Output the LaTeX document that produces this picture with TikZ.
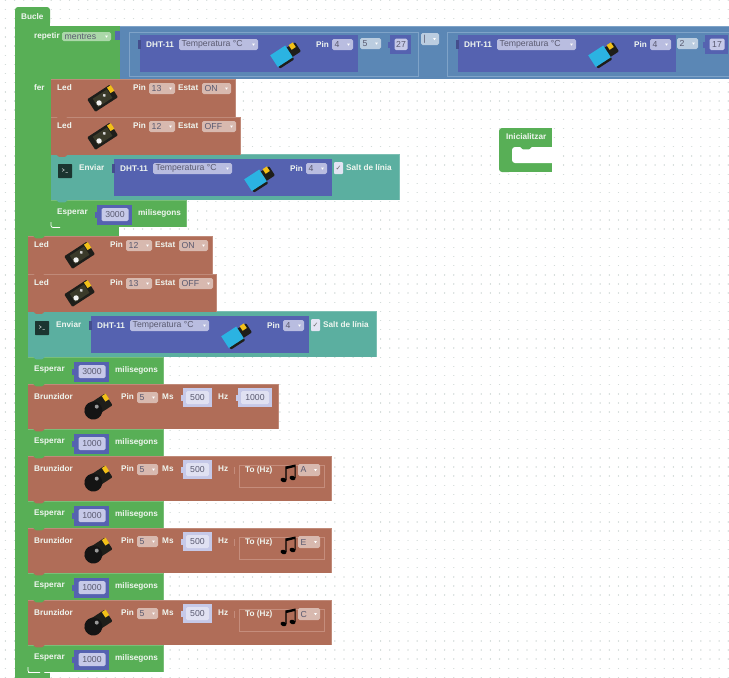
\documentclass[tikz,border=0pt]{standalone}
\usepackage{fontspec}
\setmainfont{Liberation Sans}
\newfontfamily\symfont{DejaVu Sans}
\definecolor{brownb}{HTML}{B06D58}
\definecolor{brownedge}{HTML}{C58D7C}
\definecolor{tealb}{HTML}{5BAFA0}
\definecolor{greenb}{HTML}{58AF56}
\definecolor{blueb}{HTML}{5B87B5}
\definecolor{blueedge}{HTML}{7FA3C8}
\definecolor{purpleb}{HTML}{5562B0}
\definecolor{fieldp}{HTML}{C6C9E8}
\definecolor{dropb}{HTML}{D8B9AF}
\definecolor{dropp}{HTML}{B9BDE0}
\definecolor{dropg}{HTML}{ABD8A9}
\definecolor{dropblue}{HTML}{BBCDE0}
\definecolor{dtext}{HTML}{5A5A70}
\definecolor{labelw}{HTML}{F0F6F0}
\definecolor{dotc}{HTML}{D3DBD9}
\definecolor{boardc}{HTML}{1E1E1A}
\definecolor{boardin}{HTML}{3A3A2A}
\definecolor{yell}{HTML}{F2C018}
\definecolor{cyanb}{HTML}{2BB3E2}
\newcount\nodenum
\tikzset{
  lab/.style={anchor=west,inner sep=0pt,text=labelw,font=\fontsize{8.2}{9}\selectfont\bfseries},
  fld/.style={anchor=center,inner sep=0pt,text=dtext,font=\fontsize{8.7}{9}\selectfont},
}
\newcommand{\lab}[3]{\global\advance\nodenum by 1 \node[lab] (n\the\nodenum) at (#1,#2) {#3};}
% x1 x2 y1 y2 colour
\newcommand{\blk}[5]{\fill[#5] (#1,#3) rectangle (#2,#4);
  \draw[#5!80!white,line width=.5pt] (#1,#3) -- (#2,#3) -- (#2,#4);
  \fill[#5] (#1+5,#4-.2) -- (#1+8,#4+2.4) -- (#1+14,#4+2.4) -- (#1+17,#4-.2) -- cycle;}
% x1 x2 y1 y2 colour text
\newcommand{\drop}[6]{\fill[#5,rounded corners=1.6pt] (#1,#3) rectangle (#2,#4);
  \global\advance\nodenum by 1
  \node[fld,anchor=west] (n\the\nodenum) at (#1+2.5,{(#3+#4)/2}) {#6};
  \fill[white] (#2-6,{(#3+#4)/2-1}) -- (#2-3,{(#3+#4)/2-1}) -- (#2-4.5,{(#3+#4)/2+1.2}) -- cycle;}
% x1 x2 y1 y2 text : purple number block
\newcommand{\num}[5]{\fill[purpleb] (#1,#3) rectangle (#2,#4);
  \fill[purpleb] (#1-2.5,{(#3+#4)/2-3}) rectangle (#1+.5,{(#3+#4)/2+3});
  \fill[fieldp,rounded corners=1.5pt] (#1+4.5,#3+3.5) rectangle (#2-3.5,#4-4);
  \global\advance\nodenum by 1
  \node[fld] (n\the\nodenum) at ({(#1+#2)/2+.5},{(#3+#4)/2-.3}) {#5};}
% x1 x2 y1 y2 text : pale number block on brown
\newcommand{\palenum}[5]{\fill[fieldp] (#1,#3) rectangle (#2,#4);
  \fill[fieldp] (#1-2.5,{(#3+#4)/2-3}) rectangle (#1+.5,{(#3+#4)/2+3});
  \fill[white!45!fieldp,rounded corners=1.5pt] (#1+3,#3+3) rectangle (#2-3,#4-3);
  \global\advance\nodenum by 1
  \node[fld] (n\the\nodenum) at ({(#1+#2)/2},{(#3+#4)/2}) {#5};}
\newcommand{\ledicon}[2]{\begin{scope}[shift={(#1,#2)},rotate=33]
  \fill[boardc,rounded corners=1pt] (-14,-7.5) rectangle (13,7.5);
  \fill[boardin] (-9,-5) rectangle (8,5);
  \fill[white!90!gray] (-6,2) circle (2.7);
  \fill[white!70!gray] (2.5,-1.5) circle (1.7);
  \fill[yell] (9,-6.5) rectangle (13.5,0);
  \end{scope}}
\newcommand{\buzicon}[2]{\begin{scope}[shift={(#1,#2)},rotate=33]
  \fill[boardc,rounded corners=1pt] (-8,-7) rectangle (14,7);
  \fill[black!92] (-5,1) circle (9);
  \fill[black!40!white] (0,-.5) circle (2);
  \fill[yell] (10,-6.5) rectangle (14.5,0);
  \end{scope}}
\newcommand{\dhticon}[2]{\begin{scope}[shift={(#1,#2)},rotate=33]
  \fill[boardc,rounded corners=1pt] (-13,-6) rectangle (4,9);
  \fill[boardc,rounded corners=1pt] (3,-5) rectangle (14,6);
  \fill[cyanb] (-14,-7.5) rectangle (4,6.5);
  \fill[yell] (7,-6) rectangle (12,-.5);
  \end{scope}}
\newcommand{\dht}[2]{\fill[purpleb] (#1,#2) rectangle (#1+218,#2+37);
  \fill[purpleb!80!black] (#1-2.5,#2+5) rectangle (#1+.5,#2+14);
  \lab{#1+6}{#2+9.5}{DHT-11}
  \drop{#1+39}{#1+118}{#2+4}{#2+15}{dropp}{Temperatura °C}
  \dhticon{#1+146}{#2+19}
  \lab{#1+176}{#2+9.5}{Pin}
  \drop{#1+192}{#1+213}{#2+4}{#2+15}{dropp}{4}}
% x0 y0 pin state rightedge statefieldright
\newcommand{\led}[6]{\blk{#1}{#5}{#2}{#2+37.5}{brownb}
  \lab{#1+6}{#2+9}{Led}
  \ledicon{#1+52}{#2+19}
  \lab{#1+82}{#2+9}{Pin}
  \drop{#1+98}{#1+124}{#2+4}{#2+15}{dropb}{#3}
  \lab{#1+127}{#2+9}{Estat}
  \drop{#1+151}{#6}{#2+4}{#2+15}{dropb}{#4}}
\newcommand{\enviar}[2]{\blk{#1}{#1+348}{#2}{#2+46}{tealb}
  \fill[black!70!tealb,rounded corners=.6pt] (#1+7,#2+10) rectangle (#1+21,#2+24);
  \global\advance\nodenum by 1
  \node[inner sep=0pt,text=white,font=\fontsize{6.5}{7}\selectfont\ttfamily] (n\the\nodenum) at (#1+14,#2+17) {>\_};
  \lab{#1+28}{#2+14}{Enviar}
  \dht{#1+63}{#2+5}
  \fill[dropp!40!white,rounded corners=1pt] (#1+283,#2+8) rectangle (#1+292,#2+20);
  \global\advance\nodenum by 1
  \node[inner sep=0pt,text=black!60,font=\fontsize{7}{8}\selectfont\symfont] (n\the\nodenum) at (#1+287.5,#2+14) {✓};
  \lab{#1+295}{#2+14}{Salt de línia}}
\newcommand{\esperar}[3]{\blk{#1}{#1+135}{#2}{#2+27}{greenb}
  \lab{#1+6}{#2+13}{Esperar}
  \num{#1+46}{#1+81}{#2+4.5}{#2+25}{#3}
  \lab{#1+87}{#2+13}{milisegons}}
\newcommand{\brunz}[3]{\blk{#1}{#3}{#2}{#2+45}{brownb}
  \lab{#1+6}{#2+13}{Brunzidor}
  \buzicon{#1+69}{#2+23}
  \lab{#1+93}{#2+13}{Pin}
  \drop{#1+109}{#1+130}{#2+8}{#2+19}{dropb}{5}
  \lab{#1+134}{#2+13}{Ms}
  \palenum{#1+155}{#1+184}{#2+4}{#2+23}{500}
  \lab{#1+190}{#2+13}{Hz}}
\newcommand{\tohz}[3]{\draw[brownedge,line width=.5pt] (#1+211,#2+9) rectangle (#1+296,#2+31);
  \draw[brownedge,line width=.8pt] (#1+206,#2+11) -- (#1+206,#2+18);
  \lab{#1+217}{#2+14.5}{To (Hz)}
  % music note
  \fill[black,rotate around={-20:(#1+255.5,#2+24)}] (#1+255.5,#2+24) ellipse (3 and 2.2);
  \fill[black,rotate around={-20:(#1+264.5,#2+22)}] (#1+264.5,#2+22) ellipse (3 and 2.2);
  \fill[black] (#1+257.4,#2+24) -- (#1+258.6,#2+24) -- (#1+258.6,#2+13) -- (#1+266.6,#2+11) -- (#1+266.6,#2+22) -- (#1+267.6,#2+22) -- (#1+267.6,#2+8.5) -- (#1+257.4,#2+10.5) -- cycle;
  \drop{#1+270}{#1+292}{#2+8}{#2+20}{dropb}{#3}}
\begin{document}
\begin{tikzpicture}[x=1pt,y=-1pt]
\useasboundingbox (0,0) rectangle (729,678);
\clip (0,0) rectangle (729,678);
\fill[white] (0,0) rectangle (729,678);
% grid of dots
\foreach \j in {0,...,74} {
  \draw[dotc,line width=1.4pt,line cap=round,dash pattern=on .05pt off 9.1pt] (5.4,{.35+\j*9.15}) -- (729,{.35+\j*9.15});
}
% Inicialitzar
\fill[greenb,rounded corners=3pt] (499,128) rectangle (512,172);
\fill[greenb] (505,128) rectangle (552,172);
\fill[white,rounded corners=3pt] (556,147) -- (512,147) -- (512,163) -- (556,163) -- cycle;
\fill[white] (552,140) rectangle (560,175);
\fill[greenb] (520,146.8) -- (523,149.4) -- (529,149.4) -- (532,146.8) -- cycle;
\lab{506}{137}{Inicialitzar}
% outer C block (Bucle)
\fill[greenb,rounded corners=3pt] (15,7) -- (50,7) -- (50,26) -- (28,26) -- (28,690) -- (15,690) -- cycle;
\fill[greenb] (15,673) rectangle (50,680);
\fill[greenb] (28,20) rectangle (50,26);
\lab{21}{17}{Bucle}
% main stack, bottom to top
\esperar{28}{645}{1000}
\brunz{28}{600}{331}
\tohz{28}{600}{C}
\esperar{28}{573}{1000}
\brunz{28}{528}{331}
\tohz{28}{528}{E}
\esperar{28}{501}{1000}
\brunz{28}{456}{331}
\tohz{28}{456}{A}
\esperar{28}{429}{1000}
\brunz{28}{384}{278}
\palenum{238}{272}{388}{407}{1000}
\esperar{28}{357}{3000}
\enviar{28}{311}
\led{28}{274}{13}{OFF}{216}{213}
\led{28}{236}{12}{ON}{212}{208}
% repetir block
\fill[greenb] (28,26) rectangle (120,79);
\fill[greenb] (28,79) rectangle (51,236);
\fill[greenb] (51,227) rectangle (119,236);
\fill[greenb] (33,235.8) -- (36,238.4) -- (42,238.4) -- (45,235.8) -- cycle;
% inner stack
\esperar{51}{200}{3000}
\enviar{51}{154}
\led{51}{117}{12}{OFF}{240}{236}
\led{51}{79}{13}{ON}{235}{231}
\draw[white,line width=.7pt,rounded corners=2pt] (51,222) -- (51,227.5) -- (60,227.5);
\draw[white,line width=.7pt,rounded corners=2pt] (28,667) -- (28,672.5) -- (40,672.5);
\lab{34}{36}{repetir}
\drop{62}{111}{32}{41}{dropg}{mentres}
\lab{34}{88}{fer}
% condition input
\fill[blueb] (120,26) rectangle (729,79);
\draw[blueedge,line width=.6pt] (120,26) -- (729,26);
\fill[purpleb!80!blueb] (115,31) rectangle (120,40);
\draw[blueedge,line width=.5pt] (129,32) rectangle (418,76);
\draw[blueedge,line width=.5pt] (729,32) -- (447,32) -- (447,76) -- (729,76);
\dht{140}{35}
\drop{360}{381}{38}{49}{dropblue}{5}
\num{390}{411}{35}{54}{27}
\drop{421}{439}{33}{45}{dropblue}{|}
\dht{458}{35}
\drop{677}{698}{38}{49}{dropblue}{2}
\num{705}{728}{35}{54}{17}
\end{tikzpicture}
\end{document}
